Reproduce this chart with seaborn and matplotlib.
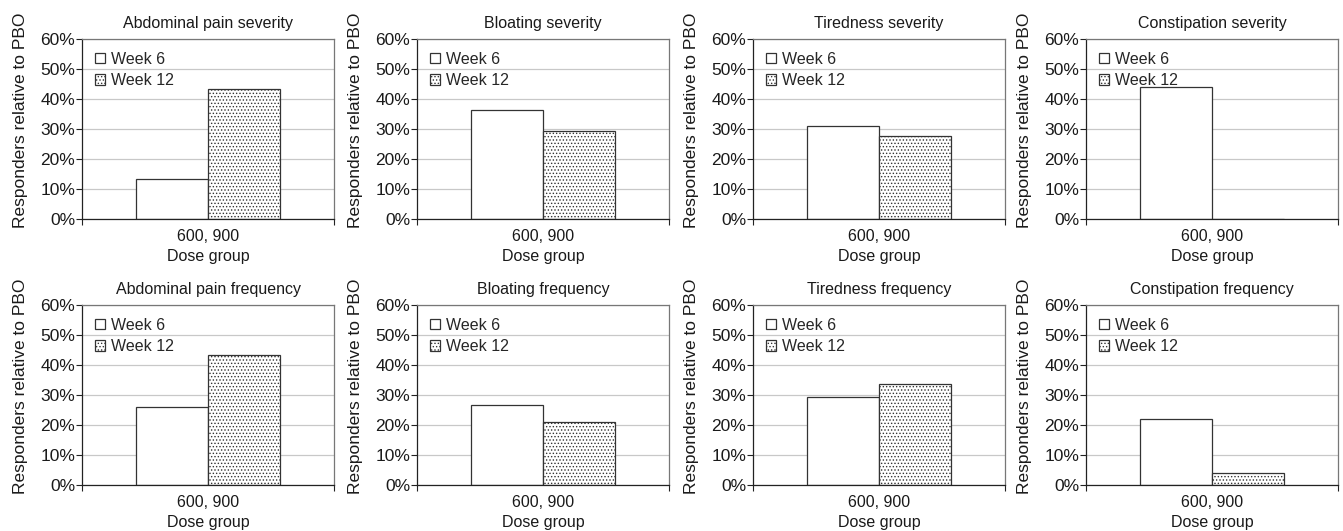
import pandas as pd
import numpy as np
import matplotlib
matplotlib.use("Agg")
import matplotlib.pyplot as plt
from matplotlib.ticker import PercentFormatter
import seaborn as sns

# Panel titles and values (percent responders vs PBO)
titles = [
    "Abdominal pain severity", "Bloating severity", "Tiredness severity", "Constipation severity",
    "Abdominal pain frequency", "Bloating frequency", "Tiredness frequency", "Constipation frequency",
]
week6 = [13.2, 36.5, 31.0, 44.0, 26.0, 26.8, 29.2, 22.0]
week12 = [43.5, 29.4, 27.7, 0.0, 43.5, 21.0, 33.6, 4.0]
weeks = ["Week 6", "Week 12"]
dose = "600, 900"
yticks = [0, 10, 20, 30, 40, 50, 60]

rows = []
for t, a, b in zip(titles, week6, week12):
    rows.append({"panel": t, "dose": dose, "week": weeks[0], "value": a})
    rows.append({"panel": t, "dose": dose, "week": weeks[1], "value": b})
df = pd.DataFrame(rows)

sns.set_style("white")
plt.rcParams['font.family'] = ['Liberation Sans', 'DejaVu Sans']
plt.rcParams['hatch.linewidth'] = 0.6

fig = plt.figure(figsize=(13.43, 5.31), dpi=100)
W, H = 1343, 531
lefts = [82, 417, 753, 1086]
tops = [39, 305]
aw, ah = 252, 180

edge = "#333333"
txt = "#1a1a1a"
for i, title in enumerate(titles):
    r, c = divmod(i, 4)
    ax = fig.add_axes([lefts[c] / W, 1 - (tops[r] + ah) / H, aw / W, ah / H])
    sub = df[df["panel"] == title]
    sns.barplot(data=sub, x="dose", y="value", hue="week", hue_order=weeks,
                palette=["white", "white"], edgecolor=edge, linewidth=0.9,
                width=0.57, ax=ax, legend=False)
    for p in ax.containers[1]:
        p.set_hatch(".....")
    ax.set_xlim(-0.5, 0.5)
    ax.set_ylim(0, 60)
    ax.set_yticks(yticks)
    ax.yaxis.set_major_formatter(PercentFormatter(decimals=0))
    ax.yaxis.grid(True, color="#c8c8c8", linewidth=0.9)
    ax.set_axisbelow(True)
    for s in ["top", "right"]:
        ax.spines[s].set_color("#777777")
        ax.spines[s].set_linewidth(0.9)
    for s in ["left", "bottom"]:
        ax.spines[s].set_color("#222222")
        ax.spines[s].set_linewidth(0.9)
    ax.tick_params(axis="y", left=True, direction="out", length=4, width=0.8,
                   color="#222222", labelsize=12.5, labelcolor=txt, pad=1)
    ax.set_xticks([-0.5, 0.5], minor=True)
    ax.tick_params(axis="x", which="minor", bottom=True, direction="out", length=4,
                   width=0.8, color="#222222")
    ax.tick_params(axis="x", which="major", bottom=False, labelsize=11.5,
                   labelcolor=txt, pad=4)
    ax.set_title(title, fontsize=11.5, color=txt, pad=8)
    ax.set_xlabel("Dose group", fontsize=11.5, color=txt, labelpad=3)
    ax.set_ylabel("Responders relative to PBO", fontsize=12.5, color=txt)
    ax.yaxis.set_label_coords(-0.215, 0.55)
    ax.legend(handles=list(ax.containers), labels=weeks, loc="upper left",
              frameon=False, fontsize=11.5, handlelength=0.65, handleheight=0.65,
              handletextpad=0.35, labelspacing=0.4, borderaxespad=0.0,
              bbox_to_anchor=(0.025, 0.965))

fig.savefig("out.png", dpi=100)
